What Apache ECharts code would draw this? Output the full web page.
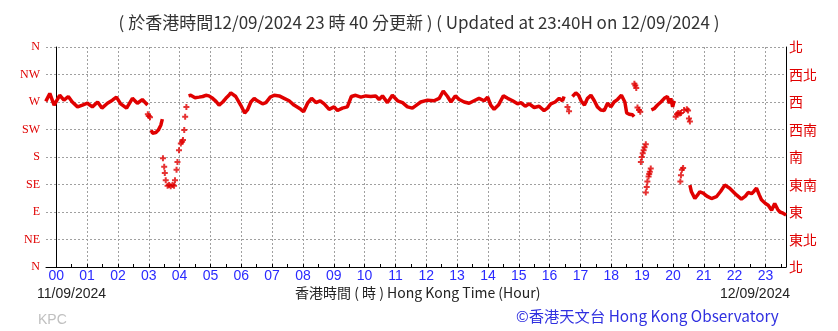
<!DOCTYPE html>
<html>
<head>
<meta charset="utf-8">
<script src="https://cdn.jsdelivr.net/npm/echarts@6/dist/echarts.min.js"></script>
<style>
html,body{margin:0;padding:0;background:#fff;}
#c{width:838px;height:331px;}
</style>
</head>
<body>
<div id="c"></div>
<script>
// ---- data (decimal hours on 12/09/2024, wind direction in degrees) ----
const hourLabels = ['00','01','02','03','04','05','06','07','08','09','10','11','12','13','14','15','16','17','18','19','20','21','22','23'];
const leftLabels = ['N','NE','E','SE','S','SW','W','NW','N'];
const rightLabels = ['北','東北','東','東南','南','西南','西','西北','北'];

// continuous trace (null = gap)
const traceHours = [
 -0.34,-0.21,-0.07,0.11,0.25,0.39,0.52,0.69,0.85,1.01,1.17,1.34,1.48,1.66,1.82,1.95,2.09,2.28,2.47,2.63,2.79,2.96,
 2.97,
 3.08,3.12,3.23,3.31,3.39,3.44,
 3.45,
 4.29,4.36,4.50,4.63,4.75,4.85,4.95,5.07,5.18,5.28,5.40,5.50,5.60,5.66,
 5.82,5.98,6.11,6.20,6.31,6.42,6.52,6.69,6.80,6.94,7.07,7.23,7.39,7.55,7.71,7.93,8.02,8.15,8.28,8.42,8.56,8.69,8.85,9.01,9.12,9.28,9.44,9.57,9.71,9.88,10.04,10.20,10.36,10.47,10.58,10.74,10.90,11.07,11.23,11.39,11.55,11.66,
 11.82,12.04,12.25,12.42,12.55,12.69,12.80,12.94,13.07,13.23,13.39,13.55,13.71,13.88,13.99,14.09,14.20,14.34,14.50,14.64,14.80,14.96,15.07,15.21,15.34,15.50,15.66,15.82,15.93,16.04,16.18,16.31,16.42,16.47,
 16.50,
 16.74,16.85,16.94,17.02,17.13,17.23,17.34,17.45,17.55,17.66,17.77,17.88,17.99,18.09,18.20,18.33,18.44,18.50,18.58,18.69,18.74,
 18.75,
 19.30,19.39,19.50,19.61,19.72,19.82,19.88,19.93,19.99,20.04,
 20.05,
 20.55,20.60,20.71,20.80,20.87,20.98,21.10,21.25,21.41,21.55,21.68,21.84,22.06,22.22,22.35,22.44,22.55,22.63,22.71,22.80,22.87,23.00,23.09,23.20,23.30,23.40,23.47,23.57,23.67
];
const traceDirs = [
 271,284,265,281,273,279,270,262,265,268,262,270,260,268,273,278,267,260,276,268,274,265,
 null,
 224,219,220,224,232,242,
 null,
 280,281,277,278,279,281,280,276,271,265,270,276,281,285,
 279,265,252,257,270,276,272,267,269,278,281,280,276,272,265,258,254,268,276,269,272,267,258,262,256,260,262,279,281,278,280,279,280,274,280,269,281,272,269,262,260,264,
 270,273,272,276,288,279,270,280,274,270,268,272,276,272,278,265,258,265,280,276,272,267,269,263,267,261,263,256,260,267,270,276,272,279,
 null,
 279,285,281,272,265,276,281,272,262,257,256,268,262,270,274,281,270,252,250,249,246,
 null,
 257,259,265,270,276,279,268,276,262,272,
 null,
 134,123,112,118,123,121,116,112,115,124,134,129,118,111,116,122,120,124,129,118,110,104,101,93,104,94,90,88,85
];

// isolated readings during rapid shifts
const jumpHours = [
 2.97,3.00,3.04,
 3.46,3.50,3.52,3.55,3.61,3.66,3.71,3.77,3.82,3.85,3.90,3.93,3.98,4.04,4.08,4.11,4.15,4.18,4.22,
 16.58,16.63,
 18.75,18.78,18.81,18.85,18.90,18.94,
 18.96,18.99,19.02,19.05,19.08,19.12,
 19.12,19.15,19.17,19.21,19.23,19.25,19.28,
 20.09,20.13,20.17,20.22,20.26,
 20.24,20.26,20.29,20.33,
 20.36,20.45,20.49,20.52,20.55
];
const jumpDirs = [
 250,247,245,
 178,164,154,142,133,134,132,134,133,142,159,172,191,202,205,208,224,246,262,
 262,255,
 300,297,293,261,257,254,
 172,180,186,191,196,201,
 122,131,140,148,152,156,161,
 246,250,252,251,252,
 140,150,159,162,
 257,258,256,243,238
];

// 10-minute slots from 23:40 (11/09) to 23:40 (12/09) for the visible time axis
const slots = [];
for (let i = 0; i <= 144; i++) slots.push(i);

const RED = '#e00000';
const traceData = traceHours.map((h, i) => traceDirs[i] == null ? [h, '-'] : [h, traceDirs[i]]);
const jumpData = jumpHours.map((h, i) => [h, jumpDirs[i]]);

const chart = echarts.init(document.getElementById('c'), null, {renderer: 'canvas'});
const dotted = {type: [2, 2], color: '#a0a0a0', width: 1};

chart.setOption({
  animation: false,
  backgroundColor: '#fff',
  grid: {left: 46, right: 52, top: 47, bottom: 64, containLabel: false},
  xAxis: [
    {
      type: 'category', data: slots, boundaryGap: false, position: 'bottom',
      axisLine: {show: true, lineStyle: {color: '#000', width: 1}},
      axisTick: {show: true, inside: true, length: 3, lineStyle: {color: '#000'},
        interval: (i) => (i - 2) % 3 === 0},
      axisLabel: {show: true, color: '#2a2aff', fontSize: 14, fontFamily: 'Liberation Sans', margin: 2,
        interval: (i) => (i - 2) % 6 === 0,
        formatter: (v, i) => ((i - 2) % 6 === 0 ? hourLabels[(i - 2) / 6] : '')},
      splitLine: {show: true, lineStyle: dotted, interval: (i) => (i - 2) % 6 === 0}
    },
    {
      type: 'value', min: -1 / 3, max: 23 + 2 / 3, show: false
    }
  ],
  yAxis: [
    {
      type: 'value', min: 0, max: 360, interval: 45, position: 'left',
      axisLine: {show: true, lineStyle: {color: '#000'}},
      axisTick: {show: false},
      axisLabel: {color: RED, fontSize: 12, fontFamily: 'Liberation Serif', margin: 6,
        formatter: (v) => leftLabels[Math.round(v / 45)]},
      splitLine: {show: true, lineStyle: dotted}
    },
    {
      type: 'value', min: 0, max: 360, interval: 45, position: 'right',
      axisLine: {show: true, lineStyle: {color: '#000'}},
      axisTick: {show: false},
      axisLabel: {color: RED, fontSize: 14, fontFamily: 'Noto Sans CJK TC', margin: 3,
        formatter: (v) => rightLabels[Math.round(v / 45)]},
      splitLine: {show: false}
    }
  ],
  series: [
    {
      type: 'line', xAxisIndex: 1, yAxisIndex: 0, data: traceData,
      showSymbol: false, connectNulls: false, smooth: false,
      lineStyle: {color: RED, width: 3.5}, z: 3
    },
    {
      type: 'scatter', xAxisIndex: 1, yAxisIndex: 0, data: jumpData,
      symbol: 'path://M2,0H4V2H6V4H4V6H2V4H0V2H2Z', symbolSize: 6,
      itemStyle: {color: RED}, z: 3
    }
  ],
  graphic: [
    {type: 'text', left: 'center', top: 14, style: {text: '( 於香港時間12/09/2024 23 時 40 分更新 ) ( Updated at 23:40H on 12/09/2024 )',
      fill: '#333', fontSize: 17, fontFamily: 'Noto Sans CJK TC'}},
    {type: 'text', left: 37, top: 287, style: {text: '11/09/2024', fill: '#222', fontSize: 14, fontFamily: 'Liberation Sans'}},
    {type: 'text', left: 295, top: 286, style: {text: '香港時間 ( 時 ) Hong Kong Time (Hour)', fill: '#222', fontSize: 14, fontFamily: 'Noto Sans CJK TC'}},
    {type: 'text', right: 48, top: 287, style: {text: '12/09/2024', fill: '#222', fontSize: 14, fontFamily: 'Liberation Sans'}},
    {type: 'text', left: 38, top: 313, style: {text: 'KPC', fill: '#c0c0c0', fontSize: 14, fontFamily: 'Liberation Sans'}},
    {type: 'text', left: 516, top: 309, style: {text: '©香港天文台 Hong Kong Observatory', fill: '#3030e0', fontSize: 15.3, fontFamily: 'Noto Sans CJK TC'}}
  ]
});
</script>
</body>
</html>
